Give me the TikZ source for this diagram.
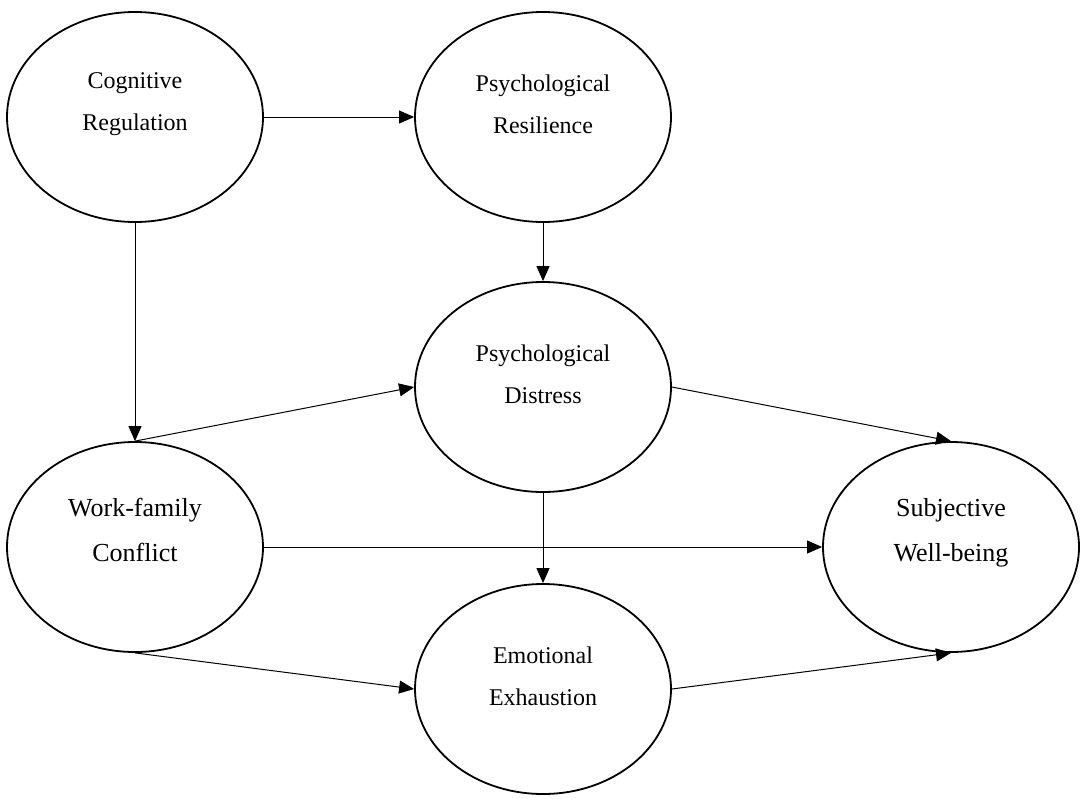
\documentclass[tikz,border=0pt]{standalone}
\usepackage{fontspec}
\setmainfont{Liberation Serif}
\usetikzlibrary{shapes.geometric,arrows.meta}
\tikzset{
  latent/.style={ellipse, draw, line width=0.9pt, minimum width=128pt, minimum height=105pt, inner sep=0pt},
  small/.style={align=center, font=\fontsize{12}{21}\selectfont},
  big/.style={align=center, font=\fontsize{13}{22.5}\selectfont},
  link/.style={-{Triangle[length=7.5pt,width=6.5pt]}, line width=0.5pt}
}
\begin{document}
\begin{tikzpicture}[x=0.5pt,y=-0.5pt]
\useasboundingbox (0,0) rectangle (1081,798);

\node[latent] (cr) at (135,117) {};
\node[latent] (pr) at (543,117) {};
\node[latent] (pd) at (543,387) {};
\node[latent] (wfc) at (135,547) {};
\node[latent] (swb) at (951,547) {};
\node[latent] (ee) at (543,689) {};

\node[small] (crt) at ([yshift=6.5pt]cr.center) {Cognitive\\Regulation};
\node[small] (prt) at ([yshift=6.5pt]pr.center) {Psychological\\Resilience};
\node[small] (pdt) at ([yshift=6.5pt]pd.center) {Psychological\\Distress};
\node[big] (wfct) at ([yshift=8.5pt]wfc.center) {Work-family\\Conflict};
\node[big] (swbt) at ([yshift=7pt]swb.center) {Subjective\\Well-being};
\node[small] (eet) at ([yshift=6.5pt]ee.center) {Emotional\\Exhaustion};

\draw[link] (cr.east) -- (pr.west);
\draw[link] (cr.south) -- (wfc.north);
\draw[link] (pr.south) -- (pd.north);
\draw[link] (wfc.north) -- (pd.west);
\draw[link] (pd.east) -- (swb.north);
\draw[link] (wfc.east) -- (swb.west);
\draw[link] (pd.south) -- (ee.north);
\draw[link] (wfc.south) -- (ee.west);
\draw[link] (ee.east) -- (swb.south);

\end{tikzpicture}
\end{document}
